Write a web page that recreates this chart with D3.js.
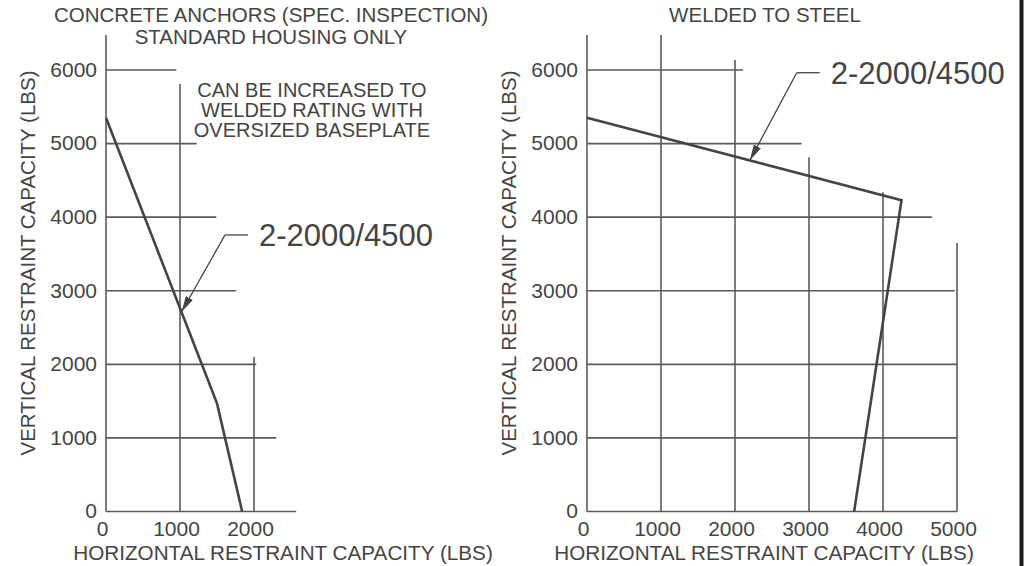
<!DOCTYPE html>
<html>
<head>
<meta charset="utf-8">
<script src="https://cdn.jsdelivr.net/npm/d3@7"></script>
<style>
  body { margin: 0; background: #fff; }
  svg text { font-family: "Liberation Sans", Arial, sans-serif; }
</style>
</head>
<body>
<svg id="chart" width="1026" height="566"></svg>
<script>
// capacity curves: horizontal vs vertical restraint (lbs)
var concreteH = [0, 1500, 1840]
  , concreteV = [5350, 1470, 0]
  , weldedH = [0, 4250, 3610]
  , weldedV = [5350, 4230, 0]

var yTicks = [0, 1000, 2000, 3000, 4000, 5000, 6000]
  , concreteXTicks = [0, 1000, 2000]
  , weldedXTicks = [0, 1000, 2000, 3000, 4000, 5000]

// the drawing's grid is stepped: every line stops at its own value (lbs)
var concreteRowEnds = [2570, 2300, 2030, 1760, 1490, 1225, 950]
  , concreteColTops = [6475, 5810, 2100]
  , weldedRowEnds = [5000, 5000, 5000, 4970, 4660, 2900, 2110]
  , weldedColTops = [6475, 6475, 6135, 4815, 4340, 3650]

var concreteTitle = ['CONCRETE ANCHORS (SPEC. INSPECTION)', 'STANDARD HOUSING ONLY']
  , weldedTitle = ['WELDED TO STEEL']
  , concreteNote = ['CAN BE INCREASED TO', 'WELDED RATING WITH', 'OVERSIZED BASEPLATE']
  , seriesLabel = '2-2000/4500'
  , xTitle = 'HORIZONTAL RESTRAINT CAPACITY (LBS)'
  , yTitle = 'VERTICAL RESTRAINT CAPACITY (LBS)'

// leader for the series label: tip lands on the curve at `at`, elbow in data units
var concreteLeader = { at: 1020, elbow: [1608, 3758] }
  , weldedLeader = { at: 2200, elbow: [2834, 5963] }

var ink = '#444'
  , gridInk = '#5a5a5a'
  , svg = d3.select('svg#chart')

svg.append('rect').attr('width', 1026).attr('height', 566).attr('fill', '#fff')
svg.append('rect').attr('x', 1019.5).attr('width', 4).attr('height', 566).attr('fill', '#1a1a1a')

svg.append('defs').append('marker')
  .attr('id', 'arrow')
  .attr('viewBox', '0 0 16 8')
  .attr('refX', 16).attr('refY', 4)
  .attr('markerWidth', 16).attr('markerHeight', 8)
  .attr('markerUnits', 'userSpaceOnUse')
  .attr('orient', 'auto')
  .append('path').attr('d', 'M0,0L16,4L0,8Z').attr('fill', ink)

var panels = [
  { h: concreteH, v: concreteV, xTicks: concreteXTicks, rowEnds: concreteRowEnds,
    colTops: concreteColTops, title: concreteTitle, note: concreteNote,
    leader: concreteLeader, x0: 106, titleX: 271 },
  { h: weldedH, v: weldedV, xTicks: weldedXTicks, rowEnds: weldedRowEnds,
    colTops: weldedColTops, title: weldedTitle, note: [],
    leader: weldedLeader, x0: 587, titleX: 765 }
]

var y = d3.scaleLinear().domain([0, 6000]).range([511.5, 70])

panels.forEach(function(p) {
  var x = d3.scaleLinear().domain([0, 5000]).range([p.x0, p.x0 + 370])
    , g = svg.append('g')
    , pts = p.h.map(function(h, i) { return [h, p.v[i]] })

  // stepped grid rows and columns
  g.selectAll('line.row').data(yTicks).enter().append('line')
    .attr('x1', x(0)).attr('x2', function(d, i) { return x(p.rowEnds[i]) })
    .attr('y1', function(d) { return y(d) }).attr('y2', function(d) { return y(d) })
    .attr('stroke', gridInk).attr('stroke-width', 1.6)
  g.selectAll('line.col').data(p.xTicks).enter().append('line')
    .attr('x1', function(d) { return x(d) }).attr('x2', function(d) { return x(d) })
    .attr('y1', y(0)).attr('y2', function(d, i) { return y(p.colTops[i]) })
    .attr('stroke', gridInk).attr('stroke-width', 1.6)

  // tick labels through d3 axes, domain paths removed
  var yAxis = g.append('g').attr('transform', 'translate(' + x(0) + ',0)')
    .call(d3.axisLeft(y).tickValues(yTicks).tickSize(0).tickPadding(9).tickFormat(d3.format('d')))
  var xAxis = g.append('g').attr('transform', 'translate(0,' + y(0) + ')')
    .call(d3.axisBottom(x).tickValues(p.xTicks).tickSize(0).tickPadding(10).tickFormat(d3.format('d')))
  ;[yAxis, xAxis].forEach(function(a) {
    a.select('.domain').remove()
    a.attr('font-size', null).attr('font-family', null)
    a.selectAll('text').attr('fill', ink).style('font-size', '21px')
  })
  yAxis.selectAll('text').attr('dy', '0.3em')
  xAxis.selectAll('text').attr('dx', -4)

  // capacity curve
  g.append('path').datum(pts)
    .attr('d', d3.line().x(function(d) { return x(d[0]) }).y(function(d) { return y(d[1]) }))
    .attr('fill', 'none').attr('stroke', ink).attr('stroke-width', 2.6)
    .attr('stroke-linejoin', 'miter')

  // leader and label
  var tipY = d3.scaleLinear().domain(p.h.slice(0, 2)).range(p.v.slice(0, 2))(p.leader.at)
    , ex = x(p.leader.elbow[0])
    , ey = y(p.leader.elbow[1])
  g.append('line').attr('x1', ex).attr('y1', ey).attr('x2', ex + 23).attr('y2', ey)
    .attr('stroke', ink).attr('stroke-width', 1.3)
  g.append('line').attr('x1', ex).attr('y1', ey)
    .attr('x2', x(p.leader.at)).attr('y2', y(tipY))
    .attr('stroke', ink).attr('stroke-width', 1.3).attr('marker-end', 'url(#arrow)')
  g.append('text').attr('x', ex + 34).attr('y', ey + 11)
    .attr('fill', ink).style('font-size', '31px').text(seriesLabel)

  // titles
  g.selectAll('text.title').data(p.title).enter().append('text')
    .attr('x', p.titleX).attr('y', function(d, i) { return 22 + i * 22 })
    .attr('text-anchor', 'middle').attr('fill', ink).style('font-size', '20.5px')
    .text(function(d) { return d })
  g.selectAll('text.note').data(p.note).enter().append('text')
    .attr('x', 312).attr('y', function(d, i) { return 97 + i * 20 })
    .attr('text-anchor', 'middle').attr('fill', ink).style('font-size', '20px')
    .text(function(d) { return d })

  g.append('text').attr('x', x(0) + 177).attr('y', 560)
    .attr('text-anchor', 'middle').attr('fill', ink).style('font-size', '20.7px').text(xTitle)
  g.append('text').attr('transform', 'translate(' + (x(0) - 71) + ',263) rotate(-90)')
    .attr('text-anchor', 'middle').attr('fill', ink).style('font-size', '20.5px').text(yTitle)
})
</script>
</body>
</html>
